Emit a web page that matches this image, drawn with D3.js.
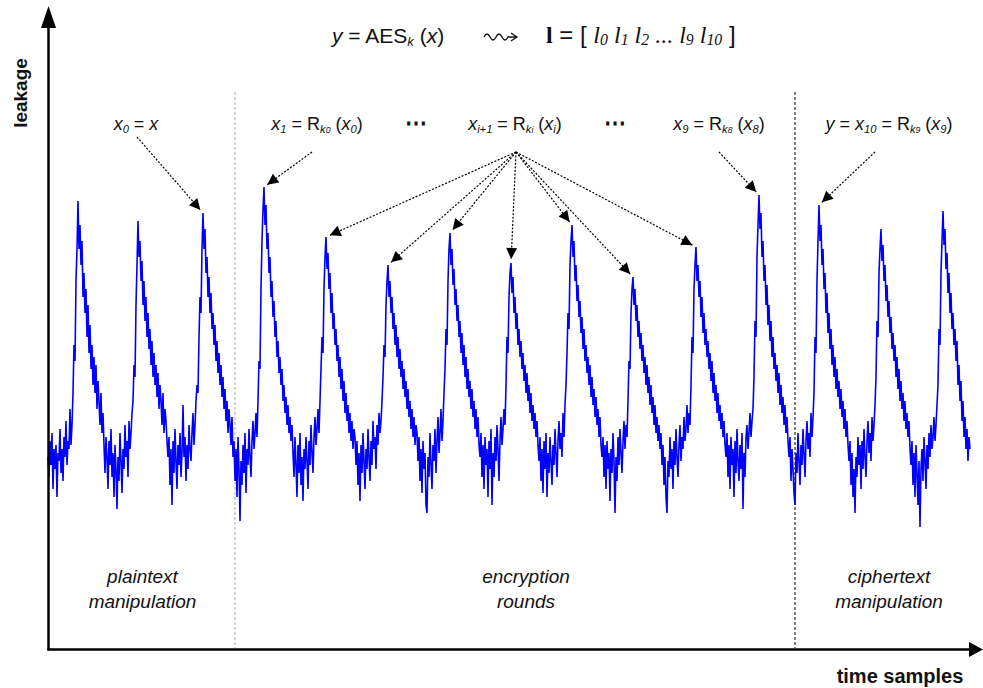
<!DOCTYPE html>
<html lang="en">
<head>
    <meta charset="UTF-8">
    <title>AES leakage trace</title>
    <script src="https://cdnjs.cloudflare.com/ajax/libs/d3/7.8.5/d3.min.js"></script>
    <style>
        body { margin: 0; background: #fff; }
        text { font-family: "Liberation Sans", Arial, sans-serif; fill: #111; white-space: pre; }
    </style>
</head>
<body>
<script>
    // leakage trace, one sample per pixel column, one line per round
    // (rise + peak + decay + floor)
    var trace = [
        22, 17, 26, 20, 28, 14, 24, 19, 25, 12, 23, 21, 29, 18, 24, 16, 27, 22, 31, 20, 26, 24, 34, 25, 30,
        38, 50, 46, 66, 74, 86,
        74, 80, 70, 76, 62, 68, 58, 64, 52, 60, 48, 55, 44, 50, 40, 47, 38, 45, 34, 41, 36, 30, 38, 28, 33,
        25, 18, 27, 22, 14, 26, 20, 29, 17, 23, 12, 25, 19, 9, 22, 16, 28, 21, 13, 24, 19, 30, 22, 26, 17, 31, 24, 28, 33,
        36, 45, 42, 60, 70, 81,
        72, 76, 66, 71, 60, 66, 56, 62, 52, 58, 49, 54, 45, 51, 42, 48, 40, 45, 37, 43, 34, 40, 36, 30, 38, 28, 34, 31, 26,
        22, 27, 15, 24, 10, 26, 18, 29, 21, 14, 25, 20, 28, 17, 23, 35, 22, 27, 16, 25, 19, 30, 24, 21, 28, 33, 25, 30, 36,
        40, 38, 52, 62, 58, 74, 83,
        74, 79, 68, 72, 62, 67, 58, 63, 54, 58, 50, 55, 46, 51, 43, 48, 40, 45, 37, 42, 34, 39, 31, 36, 28, 34, 30, 25, 32,
        22, 26, 16, 24, 12, 27, 19, 6, 21, 15, 25, 18, 28, 13, 24, 20, 29, 22, 17, 26, 31, 24, 28, 33, 27,
        36, 46, 44, 64, 76, 84, 89.5,
        80, 85, 74, 78, 68, 72, 62, 66, 57, 61, 52, 56, 47, 51, 43, 47, 40, 44, 36, 40, 33, 37, 30, 35, 28, 32, 26, 30,
        23, 17, 27, 20, 12, 25, 18, 28, 15, 22, 11, 24, 19, 27, 21, 14, 26, 20, 30, 23, 18, 27, 32, 25, 29, 34, 28,
        36, 44, 52, 48, 64, 72, 77,
        69, 73, 64, 68, 58, 63, 54, 58, 50, 54, 46, 50, 42, 47, 39, 44, 36, 41, 33, 38, 31, 35, 28, 33, 26, 31, 24, 29, 27,
        20, 26, 15, 23, 11, 25, 18, 28, 21, 14, 24, 19, 29, 22, 16, 26, 20, 31, 24, 27, 19, 30, 25, 33, 28, 31,
        36, 42, 50, 47, 60, 66, 70,
        62, 66, 58, 62, 54, 58, 50, 55, 47, 52, 44, 49, 42, 46, 39, 44, 37, 41, 34, 39, 32, 36, 29, 34, 27, 32, 25, 30, 28,
        21, 27, 16, 24, 13, 26, 19, 23, 10, 8, 22, 17, 28, 20, 14, 25, 21, 29, 18, 26, 32, 23, 28, 34, 26, 31,
        38, 44, 54, 50, 66, 74, 78,
        70, 74, 65, 69, 60, 64, 56, 60, 52, 56, 48, 53, 45, 50, 42, 47, 39, 44, 37, 41, 34, 39, 32, 36, 29, 34, 27, 32, 25,
        22, 28, 17, 25, 14, 27, 20, 24, 12, 26, 19, 29, 10, 23, 17, 27, 21, 30, 24, 16, 26, 32, 25, 29, 34, 30,
        40, 52, 48, 62, 68, 70.5,
        63, 67, 58, 62, 54, 58, 50, 54, 47, 51, 44, 48, 41, 45, 38, 43, 36, 40, 33, 38, 31, 35, 29, 33, 27, 31, 25,
        21, 27, 16, 24, 13, 26, 19, 28, 12, 23, 18, 27, 21, 15, 25, 20, 29, 23, 17, 26, 31, 24, 28, 22, 33, 27, 35,
        40, 48, 58, 54, 70, 76, 80,
        72, 76, 66, 70, 61, 65, 57, 61, 53, 57, 49, 54, 46, 50, 43, 47, 40, 45, 37, 42, 35, 39, 32, 37, 30, 34, 27, 32, 25,
        22, 27, 17, 25, 14, 26, 19, 23, 11, 24, 18, 28, 21, 8, 22, 16, 27, 20, 29, 23, 18, 26, 31, 24, 30, 27,
        36, 46, 44, 58, 64, 67,
        60, 64, 56, 60, 52, 56, 49, 53, 46, 50, 43, 47, 40, 45, 38, 42, 35, 40, 33, 37, 30, 35, 28, 32, 26, 30, 24, 28,
        20, 25, 15, 22, 12, 8, 21, 17, 27, 19, 24, 14, 26, 20, 29, 22, 17, 25, 30, 21, 27, 24, 32, 26, 29, 35, 28, 33, 30,
        40, 52, 48, 64, 70, 74.5,
        66, 70, 62, 66, 57, 62, 53, 58, 50, 54, 47, 51, 44, 48, 41, 46, 38, 43, 36, 40, 33, 38, 31, 35, 29, 33, 27, 31, 25,
        22, 28, 17, 25, 14, 27, 20, 24, 12, 26, 18, 29, 21, 16, 25, 19, 28, 9, 23, 17, 27, 30, 24, 28, 33, 27, 31,
        34, 42, 56, 52, 72, 80, 87.5,
        79, 83, 72, 76, 66, 70, 60, 65, 55, 60, 51, 56, 47, 52, 44, 48, 41, 45, 38, 43, 35, 40, 33, 37, 30, 35, 28, 32, 26,
        22, 27, 16, 24, 19, 13, 10, 23, 18, 28, 21, 15, 25, 20, 29, 23, 17, 26, 31, 24, 28, 22, 33, 27, 32,
        38, 52, 48, 66, 76, 85,
        76, 80, 70, 74, 64, 68, 58, 63, 53, 58, 49, 54, 45, 50, 42, 47, 39, 44, 37, 41, 34, 39, 32, 36, 29, 34, 27, 31, 25,
        21, 26, 15, 23, 12, 19, 8, 22, 17, 27, 20, 25, 14, 26, 19, 29, 22, 17, 26, 31, 23, 28, 21, 32, 26, 30, 35,
        42, 56, 52, 68, 74, 79,
        71, 75, 66, 70, 61, 65, 57, 61, 53, 57, 49, 53, 46, 50, 42, 47, 39, 44, 36, 41, 34, 38, 31, 36, 29, 33, 27, 31, 24,
        20, 26, 15, 23, 12, 25, 18, 10, 21, 4.5, 19, 24, 16, 27, 21, 14, 25, 19, 28, 22, 30, 24, 27, 32, 26, 30, 35,
        40, 54, 50, 68, 76, 83.5,
        75, 79, 69, 73, 63, 68, 58, 63, 54, 58, 50, 54, 46, 51, 40, 45, 36, 41, 31, 36, 27, 32, 24, 29, 21, 27, 24
    ];
    // sample index of every peak (rounds 0..14)
    var peakAt = [30, 90, 155, 216, 278, 340, 402, 463, 524, 585, 648, 711, 771, 833, 895];
    // phase borders, in samples
    var phaseBreaks = [187, 747];
    var phaseNames = [["plaintext", "manipulation"], ["encryption", "rounds"], ["ciphertext", "manipulation"]];

    var W = 983, H = 688;
    var svg = d3.select("body").append("svg").attr("width", W).attr("height", H);

    var x = d3.scaleLinear().domain([0, trace.length - 1]).range([48, 970]);
    var y = d3.scaleLinear().domain([0, 100]).range([545, 145]);

    var defs = svg.append("defs");
    defs.append("marker").attr("id", "head")
        .attr("viewBox", "0 0 10 10").attr("refX", 10).attr("refY", 5)
        .attr("markerWidth", 15).attr("markerHeight", 11)
        .attr("markerUnits", "userSpaceOnUse").attr("orient", "auto")
        .append("path").attr("d", "M0,0L10,5L0,10z").attr("fill", "#000");

    // phase separators
    svg.selectAll("line.sep").data(phaseBreaks).enter().append("line")
        .attr("class", "sep")
        .attr("x1", function(d) { return x(d); }).attr("x2", function(d) { return x(d); })
        .attr("y1", 92).attr("y2", 648)
        .attr("stroke", function(d, i) { return i === 0 ? "#aaa" : "#000"; })
        .attr("stroke-width", 1)
        .attr("stroke-dasharray", "3,2");

    // the trace
    var line = d3.line().x(function(d, i) { return x(i); }).y(function(d) { return y(d); });
    svg.append("path").datum(trace)
        .attr("d", line)
        .attr("fill", "none")
        .attr("stroke", "#0000ff")
        .attr("stroke-width", 1.6);

    // axes (no ticks, arrows at the end)
    var xAxis = d3.axisBottom(d3.scaleLinear().range([47, 972])).tickValues([]).tickSizeOuter(0);
    var yAxis = d3.axisLeft(d3.scaleLinear().range([650, 26])).tickValues([]).tickSizeOuter(0);
    svg.append("g").attr("transform", "translate(0,649)").call(xAxis)
        .select(".domain").attr("stroke-width", 2.5);
    svg.append("g").attr("transform", "translate(48,0)").call(yAxis)
        .select(".domain").attr("stroke-width", 2.5);
    svg.append("path").attr("d", "M969,642L983,649.5L969,657z").attr("fill", "#000");
    svg.append("path").attr("d", "M41,28L48.5,6L56,28z").attr("fill", "#000");

    svg.append("text").attr("transform", "translate(27,93) rotate(-90)")
        .attr("text-anchor", "middle").attr("font-size", 19).attr("font-weight", "bold")
        .text("leakage");
    svg.append("text").attr("x", 900).attr("y", 683)
        .attr("text-anchor", "middle").attr("font-size", 20).attr("font-weight", "bold")
        .text("time samples");

    // phase names
    var mids = [(x(0) + x(phaseBreaks[0])) / 2 + 1, (x(phaseBreaks[0]) + x(phaseBreaks[1])) / 2 + 11, (x(phaseBreaks[1]) + 983) / 2];
    phaseNames.forEach(function(p, i) {
        p.forEach(function(s, j) {
            svg.append("text").attr("x", mids[i]).attr("y", 583 + j * 25)
                .attr("text-anchor", "middle").attr("font-size", 19).attr("font-style", "italic")
                .text(s);
        });
    });

    // rich text helper: segments [text, opts]
    function rich(px, py, segs, size, anchor) {
        var t = svg.append("text").attr("x", px).attr("y", py)
            .attr("font-size", size).attr("text-anchor", anchor || "middle");
        var shift = 0;
        segs.forEach(function(s) {
            var o = s[1] || {};
            var ts = t.append("tspan").text(s[0]);
            var want = o.sub ? size * o.sub : 0;
            if (want !== shift) { ts.attr("dy", want - shift); shift = want; }
            if (o.sz) ts.attr("font-size", size * o.sz);
            if (o.it) ts.attr("font-style", "italic");
            if (o.b) ts.attr("font-weight", "bold");
            if (o.serif) ts.attr("font-family", "'Liberation Serif', 'Times New Roman', serif");
        });
        return t;
    }
    var IT = {it: true}, SUB = {it: true, sz: 0.62, sub: 0.14}, SUB2 = {it: true, sz: 0.48, sub: 0.18};

    // title
    rich(332, 43, [["y", IT], [" = AES"], ["k", SUB], [" ("], ["x", IT], [")"]], 21, "start");
    svg.append("path")
        .attr("d", "M484,37q3,-6 6,0t6,0t6,0t6,0l8,0M511,33l6,4l-6,4")
        .attr("fill", "none").attr("stroke", "#111").attr("stroke-width", 1.3);
    var SI = {it: true, serif: true}, SS = {it: true, serif: true, sz: 0.66, sub: 0.1};
    rich(546, 43, [["l", {b: true, serif: true}], [" = [ "],
        ["l", SI], ["0", SS], [" l", SI], ["1", SS], [" l", SI], ["2", SS], [" ... l", SI], ["9", SS],
        [" l", SI], ["10", SS], [" ]"]], 24, "start");

    // annotation labels
    var LS = 18;
    rich(136, 130, [["x", IT], ["0", SUB], [" = "], ["x", IT]], LS);
    rich(317, 130, [["x", IT], ["1", SUB], [" = R"], ["k", SUB], ["0", SUB2], [" ("], ["x", IT], ["0", SUB], [")"]], LS);
    rich(416, 130, [["\u22ef", {b: true}]], 22);
    rich(515, 130, [["x", IT], ["i+1", SUB], [" = R"], ["k", SUB], ["i", SUB2], [" ("], ["x", IT], ["i", SUB], [")"]], LS);
    rich(615, 130, [["\u22ef", {b: true}]], 22);
    rich(719, 130, [["x", IT], ["9", SUB], [" = R"], ["k", SUB], ["8", SUB2], [" ("], ["x", IT], ["8", SUB], [")"]], LS);
    rich(889, 130, [["y", IT], [" = "], ["x", IT], ["10", SUB], [" = R"], ["k", SUB], ["9", SUB2], [" ("], ["x", IT], ["9", SUB], [")"]], LS);

    // dotted arrows from labels to round peaks
    var arrows = [
        {from: [137, 137], peak: 2},
        {from: [312, 152], peak: 3},
        {from: [516, 152], peak: 4}, {from: [516, 152], peak: 5}, {from: [516, 152], peak: 6},
        {from: [516, 152], peak: 7}, {from: [516, 152], peak: 8}, {from: [516, 152], peak: 9},
        {from: [516, 152], peak: 10},
        {from: [719, 152], peak: 11},
        {from: [875, 152], peak: 12}
    ];
    arrows.forEach(function(a) {
        var i = peakAt[a.peak];
        var tx = x(i), ty = y(trace[i]);
        var dx = a.from[0] - tx, dy = a.from[1] - ty, len = Math.sqrt(dx * dx + dy * dy);
        tx += dx / len * 4; ty += dy / len * 4;
        svg.append("line")
            .attr("x1", a.from[0]).attr("y1", a.from[1]).attr("x2", tx).attr("y2", ty)
            .attr("stroke", "#000").attr("stroke-width", 1.2)
            .attr("stroke-dasharray", "2,1.6")
            .attr("marker-end", "url(#head)");
    });
</script>
</body>
</html>
